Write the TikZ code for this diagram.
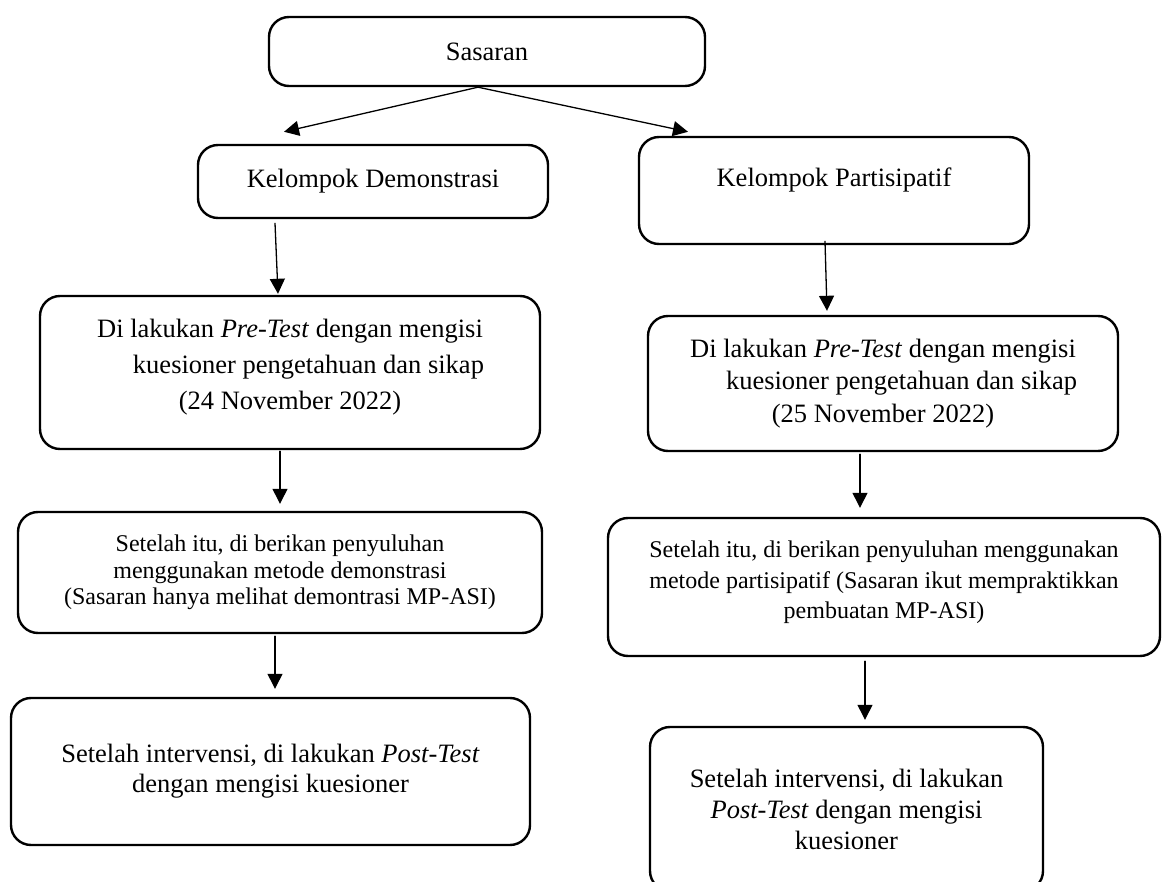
\documentclass[tikz,border=0pt]{standalone}
\usepackage{fontspec}
\setmainfont{Liberation Serif}
\usetikzlibrary{arrows.meta}

\begin{document}
\begin{tikzpicture}[x=1pt, y=-1pt, >=Stealth, line cap=round,
    box/.style={draw, line width=2.4pt, rounded corners=20pt, align=center, inner sep=0pt},
    big/.style={font=\fontsize{26.5}{36}\selectfont},
    small/.style={font=\fontsize{24}{26.5}\selectfont},
    arr/.style={-{Triangle[length=15pt, width=15pt]}, line width=1.3pt}]

    % --- Page ---
    \useasboundingbox (0,0) rectangle (1162,882);

    % --- Top ---
    \node[box, big, minimum width=436pt, minimum height=69pt] (sasaran) at (487,51.5) {Sasaran};

    \node[box, big, minimum width=350pt, minimum height=73pt] (kd) at (373,181.5) {Kelompok Demonstrasi};
    \node[box, big, minimum width=390pt, minimum height=107pt, text depth=26pt] (kp) at (834,190.5) {Kelompok Partisipatif};

    % --- Left column (demonstrasi) ---
    \node[box, big, minimum width=500pt, minimum height=153pt, text depth=17pt] (pretL) at (290,372.5)
        {Di lakukan \textit{Pre-Test} dengan mengisi\\ \hspace*{37pt}kuesioner pengetahuan dan sikap\\ (24 November 2022)};
    \node[box, small, minimum width=524pt, minimum height=121pt] (setL) at (280,572.5)
        {Setelah itu, di berikan penyuluhan\\ menggunakan metode demonstrasi\\ (Sasaran hanya melihat demontrasi MP-ASI)};
    \node[box, font=\fontsize{26.5}{30}\selectfont, minimum width=519pt, minimum height=147pt] (postL) at (270.5,771.5)
        {Setelah intervensi, di lakukan \textit{Post-Test}\\ dengan mengisi kuesioner};

    % --- Right column (partisipatif) ---
    \node[box, font=\fontsize{26.5}{32.5}\selectfont, minimum width=470pt, minimum height=135pt] (pretR) at (883,383.5)
        {Di lakukan \textit{Pre-Test} dengan mengisi\\ \hspace*{37pt}kuesioner pengetahuan dan sikap\\ (25 November 2022)};
    \node[box, font=\fontsize{24}{30.5}\selectfont, minimum width=552pt, minimum height=138pt, text depth=14pt] (setR) at (884,587)
        {Setelah itu, di berikan penyuluhan menggunakan\\ metode partisipatif (Sasaran ikut mempraktikkan\\ pembuatan MP-ASI)};
    \node[box, font=\fontsize{26.5}{31}\selectfont, minimum width=393pt, minimum height=164pt] (postR) at (846.5,809)
        {Setelah intervensi, di lakukan\\ \textit{Post-Test} dengan mengisi\\ kuesioner};

    % --- Arrows ---
    \draw[arr] ([xshift=-9pt]sasaran.south) -- ([xshift=-89pt, yshift=12pt]kd.north);
    \draw[arr] ([xshift=-9pt]sasaran.south) -- ([xshift=-146pt, yshift=4pt]kp.north);

    \draw[arr] ([xshift=-98pt, yshift=-4pt]kd.south) -- ([xshift=-12pt, yshift=1pt]pretL.north);
    \draw[arr] ([xshift=-10pt, yshift=-1pt]pretL.south) -- ([yshift=7pt]setL.north);
    \draw[arr] ([xshift=-5pt, yshift=-2pt]setL.south) -- ([xshift=4.5pt, yshift=8pt]postL.north);

    \draw[arr] ([xshift=-9pt, yshift=4pt]kp.south) -- ([xshift=-56pt, yshift=4pt]pretR.north);
    \draw[arr] ([xshift=-23pt, yshift=-2pt]pretR.south) -- ([xshift=-24pt, yshift=9pt]setR.north);
    \draw[arr] ([xshift=-19pt, yshift=-4pt]setR.south) -- ([xshift=18.5pt, yshift=6pt]postR.north);

\end{tikzpicture}
\end{document}
